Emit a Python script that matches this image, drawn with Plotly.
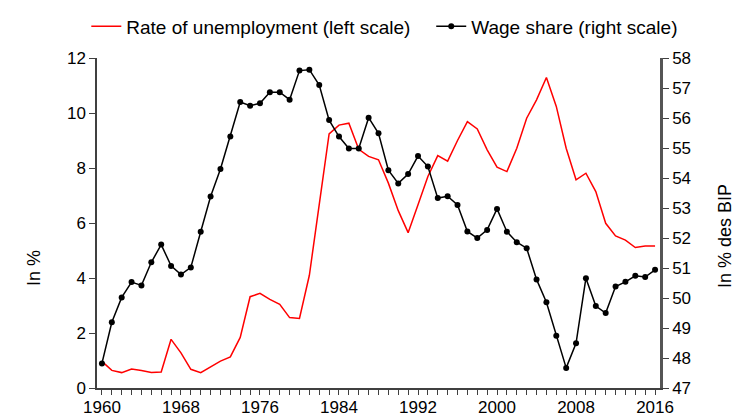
import plotly.graph_objects as go

years = list(range(1960, 2017))

# rate of unemployment, in % (left scale)
unemployment = [0.97, 0.64, 0.56, 0.69, 0.64, 0.56, 0.58, 1.77, 1.28, 0.68,
                0.56, 0.77, 0.98, 1.13, 1.84, 3.32, 3.44, 3.22, 3.04, 2.56,
                2.53, 4.10, 6.60, 9.24, 9.56, 9.63, 8.68, 8.42, 8.30, 7.45,
                6.45, 5.65, 6.66, 7.69, 8.45, 8.25, 9.00, 9.69, 9.42, 8.66,
                8.03, 7.87, 8.72, 9.81, 10.48, 11.29, 10.24, 8.72, 7.57, 7.81,
                7.14, 5.99, 5.53, 5.38, 5.11, 5.16, 5.16]

# wage share, in % of GDP (right scale)
wage_share = [47.82, 49.19, 50.02, 50.53, 50.42, 51.19, 51.78, 51.07, 50.78, 51.02,
              52.21, 53.38, 54.30, 55.38, 56.53, 56.41, 56.49, 56.86, 56.86, 56.61,
              57.58, 57.61, 57.10, 55.93, 55.38, 54.98, 54.98, 56.01, 55.49, 54.26,
              53.82, 54.13, 54.73, 54.38, 53.33, 53.39, 53.10, 52.22, 52.00, 52.27,
              52.97, 52.21, 51.86, 51.66, 50.62, 49.86, 48.74, 47.67, 48.49, 50.66,
              49.73, 49.50, 50.38, 50.54, 50.74, 50.70, 50.94]

xtick_vals = list(range(1960, 2017, 8))
left_ticks = list(range(0, 13, 2))
right_ticks = list(range(47, 59))

font_name = "Liberation Sans, Arial, sans-serif"

# the page puts the figure 8px in from the top-left corner
W, H = 737, 409
L, R, T, B = 89, 85, 50, 29

fig = go.Figure()

fig.add_trace(go.Scatter(
    x=years, y=unemployment,
    # trailing no-break spaces widen the gap to the second legend entry
    name="Rate of unemployment (left scale)\u00a0\u00a0\u00a0",
    mode="lines",
    line=dict(color="#ff0000", width=1.5)
))

fig.add_trace(go.Scatter(
    x=years, y=wage_share,
    name="Wage share (right scale)",
    mode="lines+markers",
    line=dict(color="black", width=1.5),
    marker=dict(color="black", size=6),
    yaxis="y2"
))

fig.update_layout(
    width=W, height=H,
    margin=dict(l=L, r=R, t=T, b=B, autoexpand=False),
    plot_bgcolor="white", paper_bgcolor="white",
    font=dict(family=font_name, size=17, color="black"),
    showlegend=True,
    legend=dict(orientation="h", x=-0.019, xanchor="left", y=1.038, yanchor="bottom",
                font=dict(size=19), bgcolor="rgba(0,0,0,0)"),
    xaxis=dict(range=[1959.5, 2016.5], tickvals=xtick_vals, showgrid=False,
               zeroline=False, showline=True, linecolor="#404040", linewidth=1.5,
               ticks="outside", ticklen=5, tickcolor="#404040", tickwidth=1,
               ticklabelstandoff=-2,
               minor=dict(dtick=1, tick0=1960, ticks="outside", ticklen=5,
                          tickcolor="#404040", tickwidth=1, showgrid=False)),
    yaxis=dict(range=[0, 12], tickvals=left_ticks, showgrid=False, zeroline=False,
               showline=True, linecolor="#404040", linewidth=1.5,
               ticks="outside", ticklen=6, tickcolor="#404040"),
    yaxis2=dict(range=[47, 58], tickvals=right_ticks, overlaying="y", side="right",
                showgrid=False, zeroline=False, showline=True, linecolor="#555555",
                linewidth=2.5, ticks="outside", ticklen=6, tickcolor="#404040"),
    annotations=[
        dict(text="In %", x=14, y=260, xref="paper", yref="paper", showarrow=False,
             textangle=-90, font=dict(size=18)),
        dict(text="In % des BIP", x=729, y=228, xref="paper", yref="paper",
             showarrow=False, textangle=-90, font=dict(size=18)),
    ]
)

# annotations above were given in pixels; convert to paper coordinates
plot_w = W - L - R
plot_h = H - T - B
for a in fig.layout.annotations:
    a.x = (a.x - L) / plot_w
    a.y = (H - B - a.y) / plot_h

fig.write_html("out.html")
